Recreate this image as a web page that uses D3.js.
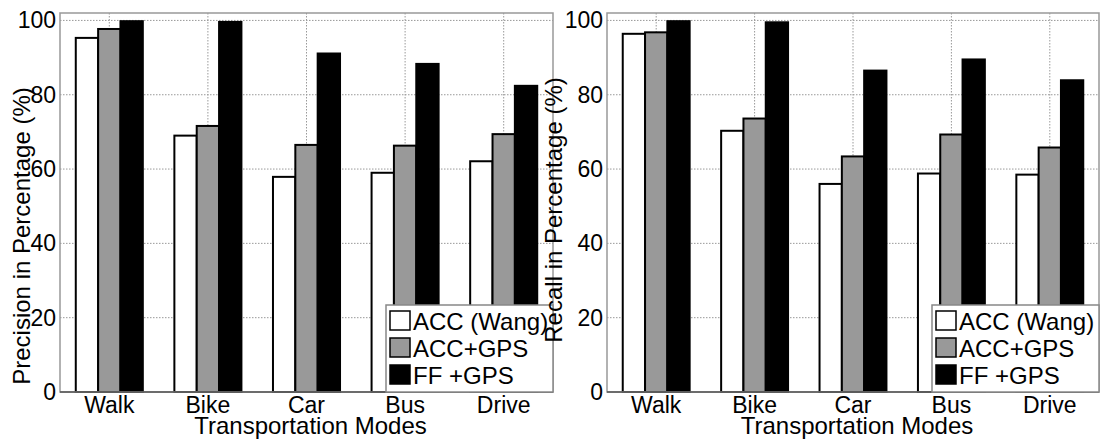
<!DOCTYPE html>
<meta charset="utf-8">
<style>
body { margin: 0; background: #fff; }
svg text { font-family: "Liberation Sans", Arial, sans-serif; fill: #000; }
.grid line { stroke: #999; stroke-width: 1; stroke-dasharray: 1.5,1.5; }
.bar { stroke: #000; stroke-width: 2; }
.frame { fill: none; stroke: #999; stroke-width: 1.5; }
</style>
<body>
<svg id="chart" width="1103" height="439"></svg>
<script src="https://d3js.org/d3.v7.min.js"></script>
<script>

// transportation modes on the x axis
var modes = ["Walk", "Bike", "Car", "Bus", "Drive"];
var series = ["ACC (Wang)", "ACC+GPS", "FF +GPS"];
var fills = ["#ffffff", "#999999", "#000000"];
var yTicks = [0, 20, 40, 60, 80, 100];

// values, one array per series
var precisionWang = [95.3, 69.0, 57.9, 59.0, 62.1];
var precisionAccGps = [97.7, 71.6, 66.5, 66.3, 69.4];
var precisionFfGps = [99.8, 99.6, 91.1, 88.3, 82.4];

var recallWang = [96.4, 70.3, 56.0, 58.8, 58.5];
var recallAccGps = [96.8, 73.6, 63.4, 69.3, 65.8];
var recallFfGps = [99.8, 99.5, 86.5, 89.5, 83.9];

var svg = d3.select("#chart");

var plotTop = 13, plotBottom = 392;
var y = d3.scaleLinear().domain([0, 102]).range([plotBottom, plotTop]);

function panel(left, right, rows, title, titleX, titleY) {
  var g = svg.append("g");
  var x = d3.scaleBand().domain(modes).range([left, right]).padding(0);
  var inner = d3.scaleBand().domain(series).range([0, x.bandwidth() * 0.68]).padding(0);
  var off = (x.bandwidth() - inner.range()[1]) / 2;

  // grid
  var grid = g.append("g").attr("class", "grid");
  grid.selectAll("line.h")
    .data(yTicks.filter(function(d) { return d > 0; }))
    .enter().append("line")
      .attr("x1", left).attr("x2", right)
      .attr("y1", function(d) { return y(d); })
      .attr("y2", function(d) { return y(d); });
  grid.selectAll("line.v")
    .data(modes)
    .enter().append("line")
      .attr("x1", function(d) { return x(d) + x.bandwidth() / 2; })
      .attr("x2", function(d) { return x(d) + x.bandwidth() / 2; })
      .attr("y1", plotTop).attr("y2", plotBottom);

  // bars
  var flat = [];
  rows.forEach(function(vals, si) {
    vals.forEach(function(v, mi) {
      flat.push({ mode: modes[mi], s: series[si], si: si, v: v });
    });
  });
  g.selectAll("rect.bar")
    .data(flat)
    .enter().append("rect")
      .attr("class", "bar")
      .attr("x", function(d) { return x(d.mode) + off + inner(d.s); })
      .attr("width", inner.bandwidth())
      .attr("y", function(d) { return y(d.v); })
      .attr("height", function(d) { return y(0) - y(d.v); })
      .attr("fill", function(d) { return fills[d.si]; });

  // frame
  g.append("rect").attr("class", "frame")
    .attr("x", left).attr("y", plotTop)
    .attr("width", right - left).attr("height", plotBottom - plotTop);
  g.append("line")
    .attr("x1", left).attr("x2", right)
    .attr("y1", plotBottom).attr("y2", plotBottom)
    .attr("stroke", "#555").attr("stroke-width", 1.5);

  // axes
  var ya = g.append("g")
    .attr("transform", "translate(" + left + ",0)")
    .call(d3.axisLeft(y).tickValues(yTicks).tickSize(0).tickPadding(4));
  ya.select(".domain").remove();
  ya.selectAll("text").attr("font-size", 23).attr("font-family", "Liberation Sans, Arial, sans-serif");

  var xa = g.append("g")
    .attr("transform", "translate(0," + plotBottom + ")")
    .call(d3.axisBottom(x).tickSize(0).tickPadding(5));
  xa.select(".domain").remove();
  xa.selectAll("text").attr("font-size", 23).attr("font-family", "Liberation Sans, Arial, sans-serif");

  g.append("text")
    .attr("x", (left + right) / 2 + 4).attr("y", 434)
    .attr("text-anchor", "middle").attr("font-size", 24)
    .text("Transportation Modes");

  g.append("text")
    .attr("transform", "translate(" + titleX + "," + titleY + ") rotate(-90)")
    .attr("text-anchor", "middle").attr("font-size", 24)
    .text(title);

  // legend
  var lw = 167, lh = 87;
  var lg = g.append("g").attr("transform", "translate(" + (right - lw) + "," + (plotBottom - lh) + ")");
  lg.append("rect").attr("width", lw).attr("height", lh)
    .attr("fill", "#fff").attr("stroke", "#888").attr("stroke-width", 1.5);
  var items = lg.selectAll("g.item").data(series).enter().append("g")
    .attr("transform", function(d, i) { return "translate(4," + (6 + i * 27) + ")"; });
  items.append("rect")
    .attr("width", 20).attr("height", 19)
    .attr("fill", function(d, i) { return fills[i]; })
    .attr("stroke", "#000").attr("stroke-width", 1.5);
  items.append("text")
    .attr("x", 23).attr("y", 19)
    .attr("font-size", 24)
    .text(function(d) { return d; });
}

panel(60, 553, [precisionWang, precisionAccGps, precisionFfGps], "Precision in Percentage (%)", 30, 236);
panel(607, 1099, [recallWang, recallAccGps, recallFfGps], "Recall in Percentage (%)", 562, 210);

</script>
</body>
